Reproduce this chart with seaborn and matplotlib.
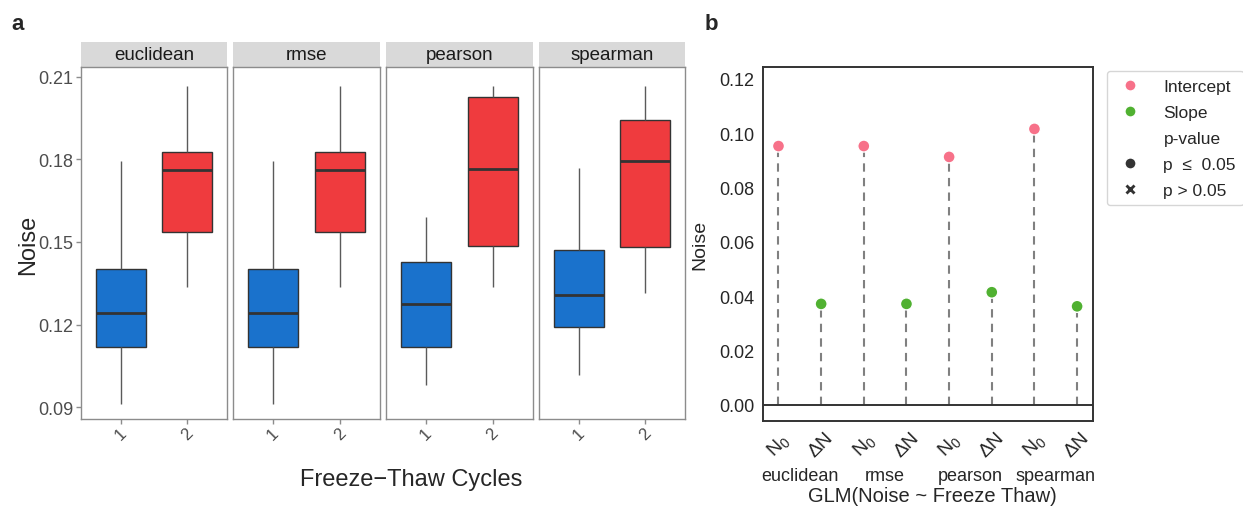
import numpy as np
import pandas as pd
import matplotlib
matplotlib.use("Agg")
import matplotlib.pyplot as plt
from matplotlib.patches import Rectangle
from matplotlib.lines import Line2D
import matplotlib.transforms as mtransforms
import seaborn as sns

# ---------------- data ----------------
metrics = ["euclidean", "rmse", "pearson", "spearman"]
cycles = ["1", "2"]
# five-number summaries (min, Q1, median, Q3, max)
euclidean_c1 = [0.0910, 0.1117, 0.1241, 0.1402, 0.1792]
euclidean_c2 = [0.1335, 0.1537, 0.1762, 0.1828, 0.2065]
rmse_c1 = [0.0910, 0.1117, 0.1241, 0.1402, 0.1792]
rmse_c2 = [0.1335, 0.1537, 0.1762, 0.1828, 0.2065]
pearson_c1 = [0.0979, 0.1117, 0.1274, 0.1427, 0.1590]
pearson_c2 = [0.1335, 0.1484, 0.1764, 0.2025, 0.2065]
spearman_c1 = [0.1017, 0.1191, 0.1307, 0.1471, 0.1770]
spearman_c2 = [0.1315, 0.1482, 0.1793, 0.1943, 0.2065]
summaries = {
    "euclidean": (euclidean_c1, euclidean_c2),
    "rmse": (rmse_c1, rmse_c2),
    "pearson": (pearson_c1, pearson_c2),
    "spearman": (spearman_c1, spearman_c2),
}
a_yticks = [0.09, 0.12, 0.15, 0.18, 0.21]

terms = ["Intercept", "Slope"]
term_ticklabels = ["N$_0$", "ΔN"]
intercepts = [0.0952, 0.0952, 0.0912, 0.1015]
slopes = [0.0371, 0.0371, 0.0414, 0.0362]
pvalue_levels = ["p  ≤  0.05", "p > 0.05"]
b_yticks = [0.00, 0.02, 0.04, 0.06, 0.08, 0.10, 0.12]

# ---------------- style ----------------
sns.set_style("white")
plt.rcParams["font.family"] = ["Liberation Sans", "DejaVu Sans"]
plt.rcParams["mathtext.fontset"] = "custom"
plt.rcParams["mathtext.rm"] = "Liberation Sans"
plt.rcParams["mathtext.it"] = "Liberation Sans:italic"

W, H = 1243, 510
fig = plt.figure(figsize=(W / 100, H / 100), dpi=100)


def fax(left, top, right, bottom):
    return fig.add_axes([left / W, 1 - bottom / H, (right - left) / W, (bottom - top) / H])


cycle_colors = {"1": "#1a72cc", "2": "#ef3b3e"}
grey_txt = "#4d4d4d"
border = "#8c8c8c"

# ---------------- panel a ----------------
lefts = [80.7, 233.3, 386.0, 538.5]
pw = 146.7
top_a, bot_a = 68.3, 420.0
for i, m in enumerate(metrics):
    ax = fax(lefts[i], top_a, lefts[i] + pw, bot_a)
    c1, c2 = summaries[m]
    df = pd.DataFrame({
        "cycle": [cycles[0]] * len(c1) + [cycles[1]] * len(c2),
        "noise": list(c1) + list(c2),
    })
    sns.boxplot(data=df, x="cycle", y="noise", hue="cycle", order=cycles,
                hue_order=cycles, palette=cycle_colors, legend=False, saturation=1,
                whis=np.inf, width=0.75, showcaps=False, linecolor="#333333",
                linewidth=1.0, ax=ax,
                medianprops={"linewidth": 2.0, "color": "#333333"},
                whiskerprops={"color": "#5a5a5a", "linewidth": 1.0},
                boxprops={"edgecolor": "#333333"})
    ax.set_xlim(-0.6, 1.6)
    ax.set_ylim(0.0857, 0.2134)
    ax.set_xlabel("")
    ax.set_ylabel("")
    for s in ax.spines.values():
        s.set_visible(True)
        s.set_color(border)
        s.set_linewidth(1.0)
    ax.set_yticks(a_yticks)
    if i == 0:
        ax.set_yticklabels([f"{v:.2f}" for v in a_yticks], fontsize=13, color=grey_txt)
        ax.tick_params(axis="y", length=3.5, color=border, width=1, pad=2, left=True)
    else:
        ax.set_yticklabels([])
        ax.tick_params(axis="y", length=0)
    ax.tick_params(axis="x", length=3.5, color=border, width=1, bottom=True, pad=1)
    ax.set_xticks([0, 1])
    ax.set_xticklabels(cycles, rotation=45, fontsize=12, color=grey_txt, ha="center", va="top")
    # strip
    strip_h = 25.3 / (bot_a - top_a)
    ax.add_patch(Rectangle((0, 1.0), 1, strip_h, transform=ax.transAxes,
                           facecolor="#d9d9d9", edgecolor="none", clip_on=False))
    ax.text(0.5, 1 + strip_h / 2, m, transform=ax.transAxes, ha="center",
            va="center", fontsize=13.5, color="#1a1a1a")

fig.text(28 / W, 1 - 245 / H, "Noise", rotation=90, ha="center", va="center", fontsize=17)
fig.text(411 / W, 1 - 480 / H, "Freeze\u2212Thaw Cycles", ha="center", va="center", fontsize=17)
fig.text(18 / W, 1 - 25 / H, "a", ha="center", va="center", fontsize=16, fontweight="bold")

# ---------------- panel b ----------------
axb = fax(762.7, 68.0, 1093.3, 421.7)
rows = []
for j, m in enumerate(metrics):
    rows.append({"metric": m, "term": terms[0], "noise": intercepts[j], "p": pvalue_levels[0]})
    rows.append({"metric": m, "term": terms[1], "noise": slopes[j], "p": pvalue_levels[0]})
dfb = pd.DataFrame(rows)
dfb["pos"] = np.arange(len(dfb))
dfb["p"] = pd.Categorical(dfb["p"], categories=pvalue_levels)
term_colors = {"Intercept": "#f77189", "Slope": "#50b131"}

axb.vlines(dfb["pos"], 0, dfb["noise"], colors="#808080", linestyles=(0, (4, 3)),
           linewidth=1.5, zorder=1)
axb.axhline(0, color="#333333", linewidth=1.4, zorder=1)
sns.scatterplot(data=dfb, x="pos", y="noise", hue="term", palette=term_colors,
                style="p", markers={pvalue_levels[0]: "o", pvalue_levels[1]: "X"},
                s=75, edgecolor="white", linewidth=1.0, legend=False, ax=axb, zorder=3)
axb.set_xlim(-0.37, len(dfb) - 1 + 0.38)
axb.set_ylim(-0.0059, 0.1243)
axb.set_yticks(b_yticks)
axb.set_yticklabels([f"{v:.2f}" for v in b_yticks], fontsize=13, color="#262626")
axb.set_xticks(dfb["pos"])
axb.set_xticklabels([term_ticklabels[terms.index(t)] for t in dfb["term"]],
                    rotation=45, fontsize=14, color="#262626")
axb.tick_params(length=0, pad=6)
axb.tick_params(axis="x", pad=6)
axb.set_xlabel("")
axb.set_ylabel("")
for s in axb.spines.values():
    s.set_visible(True)
    s.set_color("#333333")
    s.set_linewidth(1.4)

trans = mtransforms.blended_transform_factory(axb.transData, fig.transFigure)
for j, m in enumerate(metrics):
    xc = dfb.loc[dfb["metric"] == m, "pos"].mean()
    axb.text(xc, 1 - 477 / H, m, transform=trans, ha="center", va="center",
             fontsize=13, color="#262626")
fig.text(932 / W, 1 - 497 / H, "GLM(Noise ~ Freeze Thaw)", ha="center", va="center",
         fontsize=14.5, color="#262626")
fig.text(700 / W, 1 - 245 / H, "Noise", rotation=90, ha="center", va="center",
         fontsize=14, color="#262626")
fig.text(711 / W, 1 - 24 / H, "b", ha="center", va="center", fontsize=16, fontweight="bold")

handles = [
    Line2D([], [], ls="none", marker="o", markersize=8, markerfacecolor=term_colors["Intercept"], markeredgecolor="white"),
    Line2D([], [], ls="none", marker="o", markersize=8, markerfacecolor=term_colors["Slope"], markeredgecolor="white"),
    Line2D([], [], ls="none", marker=""),
    Line2D([], [], ls="none", marker="o", markersize=8, markerfacecolor="#333333", markeredgecolor="white"),
    Line2D([], [], ls="none", marker="X", markersize=8, markerfacecolor="#333333", markeredgecolor="white"),
]
labels = terms + ["p-value"] + pvalue_levels
leg = fig.legend(handles, labels, loc="upper left", bbox_to_anchor=(1107 / W, 1 - 72 / H),
                 frameon=True, fontsize=12.5, handletextpad=1.0, borderpad=0.45,
                 labelspacing=0.62, handlelength=1.8, borderaxespad=0)
leg.get_frame().set_edgecolor("#cccccc")
leg.get_frame().set_linewidth(1.0)
for t in leg.get_texts():
    t.set_color("#262626")

fig.savefig("out.png", dpi=100)
